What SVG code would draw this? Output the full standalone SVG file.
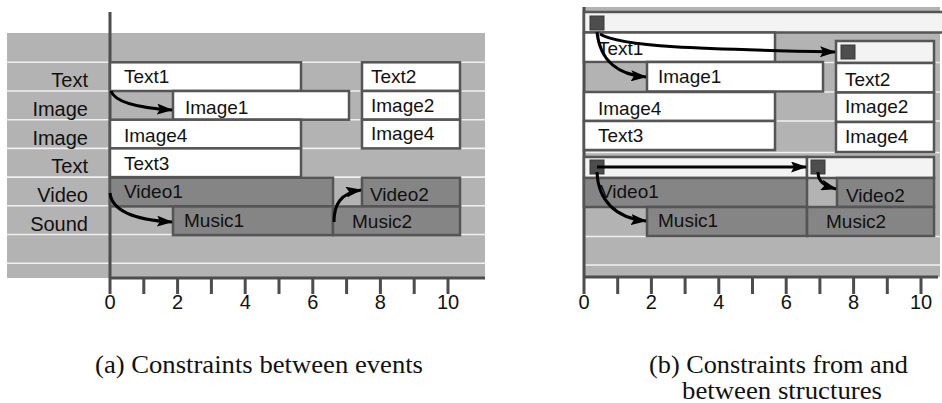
<svg xmlns="http://www.w3.org/2000/svg" width="942" height="403" viewBox="0 0 942 403">
<style>
.bg{fill:#b3b3b3}
.sep{stroke:#f0f0f0;stroke-width:1.6}
.ev{fill:#fff;stroke:#555;stroke-width:2.5}
.av{fill:#858585;stroke:#555;stroke-width:2.5}
.bar{fill:#f3f3f3;stroke:#555;stroke-width:2.5}
.sq{fill:#4d4d4d;stroke:#3a3a3a;stroke-width:1}
.axis{stroke:#4d4d4d;stroke-width:3;fill:none}
.lbl{font-family:"Liberation Sans",Arial,sans-serif;font-size:19px;fill:#111}
.row{font-size:20px;text-anchor:end}
.num{text-anchor:middle;font-size:20px}
.cap{font-family:"Liberation Serif","Times New Roman",serif;font-size:25px;fill:#111}
.arr{fill:none;stroke:#000;stroke-width:3;marker-end:url(#ah)}
</style>
<defs>
<marker id="ah" viewBox="0 0 16 11" refX="15" refY="5.5" markerWidth="16" markerHeight="11" orient="auto" markerUnits="userSpaceOnUse">
<path d="M0,0 L16,5.5 L0,11 L3,5.5 z" fill="#000"/>
</marker>
</defs>

<!-- Panel (a) background -->
<g id="panel-a-bg">
<rect class="bg" x="7" y="33" width="478" height="245"/>
<g class="sep">
<line x1="7" y1="62.3" x2="485" y2="62.3"/>
<line x1="7" y1="91" x2="485" y2="91"/>
<line x1="7" y1="119.7" x2="485" y2="119.7"/>
<line x1="7" y1="148.4" x2="485" y2="148.4"/>
<line x1="7" y1="177.1" x2="485" y2="177.1"/>
<line x1="7" y1="205.8" x2="485" y2="205.8"/>
<line x1="7" y1="234.5" x2="485" y2="234.5"/>
<line x1="7" y1="263.2" x2="485" y2="263.2"/>
</g>
</g>
<g id="panel-a-rows" class="lbl row">
<text x="88" y="87">Text</text>
<text x="88" y="116">Image</text>
<text x="88" y="145">Image</text>
<text x="88" y="173">Text</text>
<text x="88" y="202">Video</text>
<text x="88" y="231">Sound</text>
</g>
<g id="panel-a-axis">
<path class="axis" d="M110,12 V294 M110,278 H485 M143.8,278 V294 M177.6,278 V294 M211.4,278 V294 M245.2,278 V294 M279,278 V294 M312.8,278 V294 M346.6,278 V294 M380.4,278 V294 M414.2,278 V294 M448,278 V294"/>
<g class="lbl num">
<text x="110" y="309">0</text>
<text x="177.6" y="309">2</text>
<text x="245.2" y="309">4</text>
<text x="312.8" y="309">6</text>
<text x="380.4" y="309">8</text>
<text x="448" y="309">10</text>
</g>
</g>

<g id="a-text1"><rect class="ev" x="110" y="62.3" width="191" height="28.7"/><text class="lbl" x="124" y="83">Text1</text></g>
<g id="a-image1"><rect class="ev" x="173" y="91" width="176" height="28.7"/><text class="lbl" x="185" y="114">Image1</text></g>
<g id="a-image4"><rect class="ev" x="110" y="119.7" width="191" height="28.7"/><text class="lbl" x="124" y="142">Image4</text></g>
<g id="a-text3"><rect class="ev" x="110" y="148.4" width="191" height="28.7"/><text class="lbl" x="124" y="170">Text3</text></g>
<g id="a-text2"><rect class="ev" x="362" y="62.3" width="98" height="28.7"/><text class="lbl" x="371" y="83">Text2</text></g>
<g id="a-image2"><rect class="ev" x="362" y="91" width="98" height="28.7"/><text class="lbl" x="371" y="112">Image2</text></g>
<g id="a-image4b"><rect class="ev" x="362" y="119.7" width="98" height="28.7"/><text class="lbl" x="371" y="140">Image4</text></g>
<g id="a-video1"><rect class="av" x="110" y="177.7" width="223" height="28.7"/><text class="lbl" x="124" y="198">Video1</text></g>
<g id="a-music1"><rect class="av" x="173" y="206.4" width="160" height="28.7"/><text class="lbl" x="184" y="227">Music1</text></g>
<g id="a-video2"><rect class="av" x="362" y="177.7" width="98" height="28.7"/><text class="lbl" x="370" y="201">Video2</text></g>
<g id="a-music2"><rect class="av" x="333" y="206.4" width="127" height="28.7"/><text class="lbl" x="352" y="228">Music2</text></g>

<!-- Panel (b) background -->
<g id="panel-b-bg">
<rect class="bg" x="584" y="7" width="356" height="270"/>
<g class="sep">
<line x1="584" y1="62.5" x2="940" y2="62.5"/>
<line x1="584" y1="92" x2="940" y2="92"/>
<line x1="584" y1="121" x2="940" y2="121"/>
<line x1="584" y1="152.5" x2="940" y2="152.5"/>
<line x1="584" y1="236.5" x2="940" y2="236.5"/>
<line x1="584" y1="265" x2="940" y2="265"/>
</g>
</g>
<g id="panel-b-axis">
<path class="axis" d="M584,7 V294 M584,277 H938 M617.7,277 V294 M651.4,277 V294 M685.1,277 V294 M718.8,277 V294 M752.5,277 V294 M786.2,277 V294 M819.9,277 V294 M853.6,277 V294 M887.3,277 V294 M921,277 V294"/>
<g class="lbl num">
<text x="584" y="309">0</text>
<text x="651.4" y="309">2</text>
<text x="718.8" y="309">4</text>
<text x="786.2" y="309">6</text>
<text x="853.6" y="309">8</text>
<text x="921" y="309">10</text>
</g>
</g>

<g id="b-struct-top"><rect class="bar" x="584" y="12" width="360" height="20.5"/><rect class="sq" x="590" y="16" width="14" height="14"/></g>
<g id="b-text1"><rect class="ev" x="584" y="32.5" width="191" height="29.5"/><text class="lbl" x="598" y="55">Text1</text></g>
<g id="b-image1"><rect class="ev" x="647" y="62" width="176" height="29.5"/><text class="lbl" x="658" y="83">Image1</text></g>
<g id="b-image4"><rect class="ev" x="584" y="92" width="191" height="29"/><text class="lbl" x="598" y="115">Image4</text></g>
<g id="b-text3"><rect class="ev" x="584" y="121" width="191" height="29"/><text class="lbl" x="598" y="142">Text3</text></g>
<g id="b-struct-right"><rect class="bar" x="836" y="41" width="98" height="22"/><rect class="sq" x="841" y="45" width="14" height="14"/></g>
<g id="b-text2"><rect class="ev" x="836" y="63" width="98" height="29.5"/><text class="lbl" x="845" y="86">Text2</text></g>
<g id="b-image2"><rect class="ev" x="836" y="92.5" width="98" height="29.5"/><text class="lbl" x="845" y="113">Image2</text></g>
<g id="b-image4b"><rect class="ev" x="836" y="122" width="98" height="30"/><text class="lbl" x="845" y="143">Image4</text></g>

<g id="b-struct-a"><rect class="bar" x="584" y="157" width="223" height="21"/><rect class="sq" x="590" y="160" width="14" height="14"/></g>
<g id="b-video1"><rect class="av" x="584" y="178" width="223" height="29"/><text class="lbl" x="600" y="198">Video1</text></g>
<g id="b-music1"><rect class="av" x="647" y="207" width="160" height="29"/><text class="lbl" x="658" y="227">Music1</text></g>
<g id="b-struct-b"><rect class="bar" x="807" y="157" width="127" height="21"/><rect class="sq" x="811" y="160" width="14" height="14"/></g>
<g id="b-video2"><rect class="av" x="837" y="178" width="97" height="29"/><text class="lbl" x="846" y="202">Video2</text></g>
<g id="b-music2"><rect class="av" x="807" y="207" width="127" height="29"/><text class="lbl" x="826" y="228">Music2</text></g>

<g id="connectors">
<path class="arr" d="M111,91 C115,103 140,108 172,110"/>
<path class="arr" d="M110,193 C112,211 135,220 172,222"/>
<path class="arr" d="M334,222 C334,205 340,193 361,190"/>
<path class="arr" d="M597,32 C600,62 620,75 646,77"/>
<path class="arr" d="M600,34 C620,47 700,49 835,52"/>
<path class="arr" d="M597,167 L806,167"/>
<path class="arr" d="M597,172 C598,200 615,218 646,221"/>
<path class="arr" d="M818,172 C818,182 825,186 836,189"/>
</g>

<g id="captions" class="cap">
<text x="95" y="373" textLength="328" lengthAdjust="spacingAndGlyphs">(a) Constraints between events</text>
<text x="649" y="373" textLength="259" lengthAdjust="spacingAndGlyphs">(b) Constraints from and</text>
<text x="682" y="399" textLength="200" lengthAdjust="spacingAndGlyphs">between structures</text>
</g>
</svg>
